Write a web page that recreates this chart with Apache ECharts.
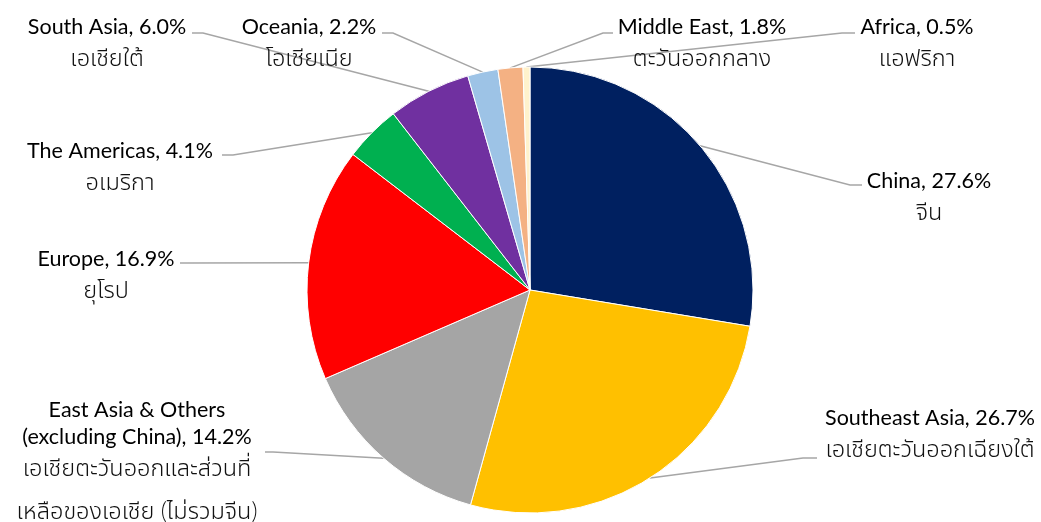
<!DOCTYPE html>
<html>
<head>
<meta charset="utf-8">
<script src="https://cdn.jsdelivr.net/npm/echarts@6/dist/echarts.min.js"></script>
<style>html,body{margin:0;padding:0;background:#fff}#c{width:1041px;height:522px}</style>
</head>
<body>
<div id="c"></div>
<script>
const categories = ['China', 'Southeast Asia', 'East Asia & Others\n(excluding China)', 'Europe', 'The Americas', 'South Asia', 'Oceania', 'Middle East', 'Africa'];
const categoriesTh = ['จีน', 'เอเชียตะวันออกเฉียงใต้', 'เอเชียตะวันออกและส่วนที่\nเหลือของเอเชีย (ไม่รวมจีน)', 'ยุโรป', 'อเมริกา', 'เอเชียใต้', 'โอเชียเนีย', 'ตะวันออกกลาง', 'แอฟริกา'];
const values = [27.6, 26.7, 14.2, 16.9, 4.1, 6.0, 2.2, 1.8, 0.5];
const colors = ['#002060', '#FFC000', '#A5A5A5', '#FF0000', '#00B050', '#7030A0', '#9DC3E6', '#F4B183', '#FFF2CC'];

// label placement: [text centre x, first line centre y, leader end x, leader end y, elbow x]
const labelLayoutSpec = [
  [929, 181, 862, 185, 850],
  [930, 418, 817, 458, 803],
  [137, 410, 265, 452, 273],
  [106, 259, 180, 263, 188],
  [120, 151, 222, 155, 233],
  [107, 27, 192, 33, 203],
  [309, 27, 382, 33, 393],
  [702, 27, 613, 33, 603],
  [917, 27, 855, 33, 842]
];

const font = 'Lato, "Noto Sans", "Noto Sans Thai", sans-serif';
const chart = echarts.init(document.getElementById('c'), null, {renderer: 'canvas'});
chart.setOption({
  animation: false,
  backgroundColor: '#fff',
  series: [{
    type: 'pie',
    center: [530, 290],
    radius: 223,
    startAngle: 90,
    clockwise: true,
    avoidLabelOverlap: false,
    data: categories.map((n, i) => ({name: n, value: values[i], itemStyle: {color: colors[i]}})),
    itemStyle: {borderColor: '#fff', borderWidth: 1},
    label: {
      show: true,
      position: 'outside',
      color: '#000',
      fontFamily: font,
      fontWeight: 'normal',
      formatter: p => {
        const i = p.dataIndex;
        const en = categories[i].split('\n');
        en[en.length - 1] += ', ' + values[i].toFixed(1) + '%';
        const th = categoriesTh[i].split('\n');
        return en.map(s => '{en|' + s + '}').join('\n') + '\n' +
          th.map((s, k) => '{' + (k === 0 ? 'th' : 'thb') + '|' + s + '}').join('\n');
      },
      rich: {
        en: {fontSize: 21.5, fontWeight: 'normal', lineHeight: 27, color: '#000', fontFamily: font, align: 'center'},
        th: {fontSize: 23.5, fontWeight: 300, lineHeight: 36, color: '#111', fontFamily: font, align: 'center'},
        thb: {fontSize: 23.5, fontWeight: 300, lineHeight: 49, color: '#111', fontFamily: font, align: 'center'}
      }
    },
    labelLine: {show: true, lineStyle: {color: '#A6A6A6', width: 1.5}},
    labelLayout: params => {
      const s = labelLayoutSpec[params.dataIndex];
      const start = params.labelLinePoints ? params.labelLinePoints[0] : [s[2], s[3]];
      return {
        x: s[0],
        y: s[1] - 13.5,
        align: 'center',
        verticalAlign: 'top',
        labelLinePoints: [start, [s[4], s[3]], [s[2], s[3]]]
      };
    },
    emphasis: {disabled: true}
  }]
});
</script>
</body>
</html>
